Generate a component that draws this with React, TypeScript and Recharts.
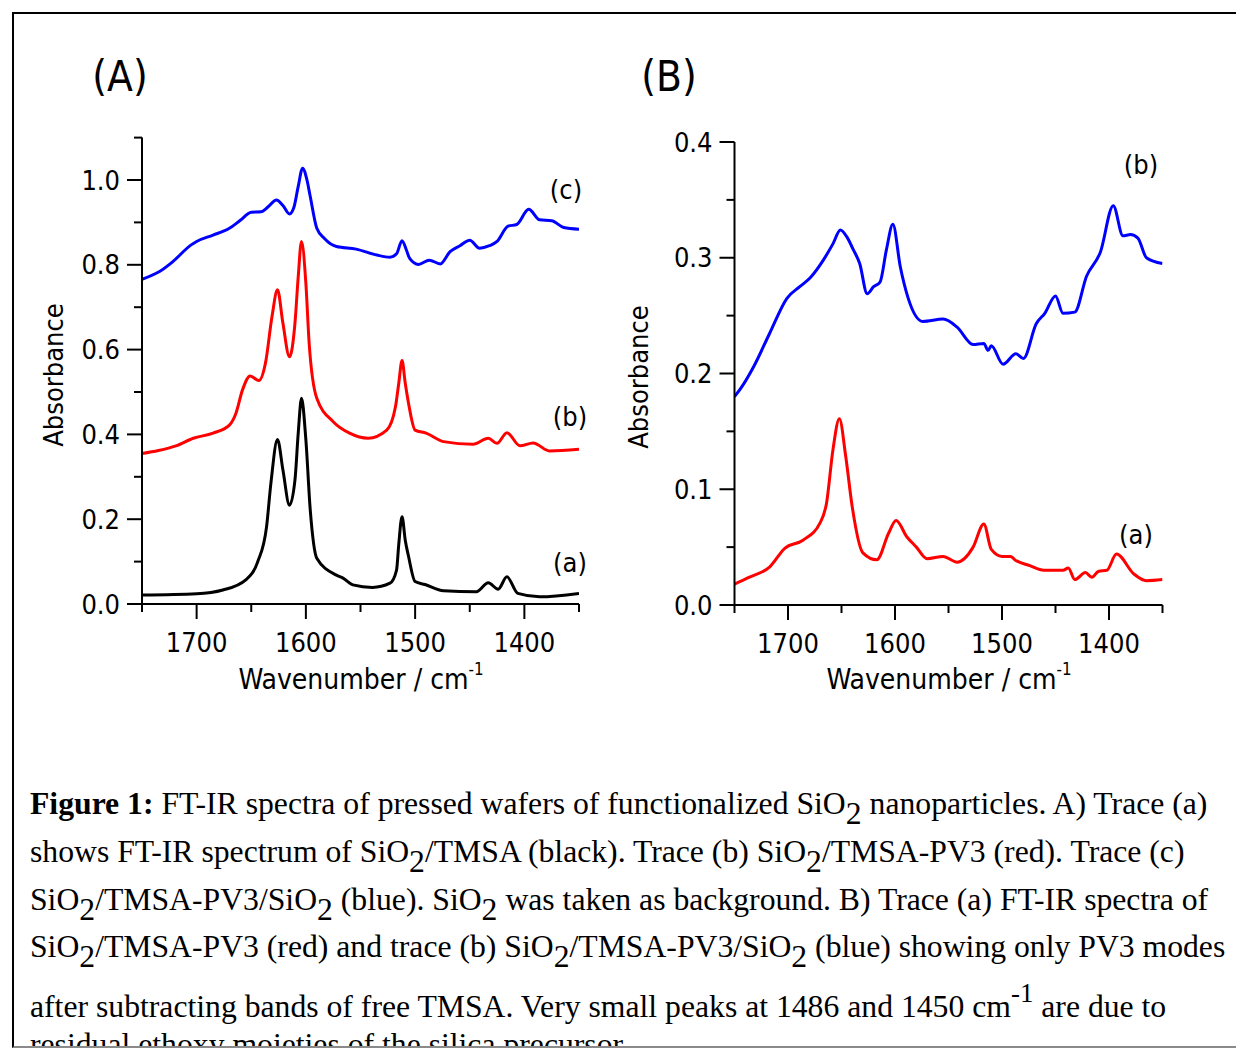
import React from "react";
import { LineChart, Line, XAxis, YAxis } from "recharts";

// ---------- Panel A data ----------
const A_c_wn = [1750, 1734, 1722, 1705, 1700, 1685, 1670, 1660, 1650, 1641, 1634, 1627, 1621, 1615, 1611, 1607, 1603, 1599, 1596, 1590, 1583, 1572, 1554, 1535, 1523, 1517, 1512, 1508, 1505, 1497, 1487, 1477, 1468, 1459, 1450, 1441, 1432, 1425, 1415, 1407, 1396, 1386, 1375, 1364, 1350];
const A_c_abs = [0.766, 0.784, 0.807, 0.847, 0.855, 0.87, 0.886, 0.905, 0.924, 0.925, 0.938, 0.953, 0.94, 0.92, 0.935, 0.985, 1.028, 1.0, 0.961, 0.886, 0.862, 0.843, 0.837, 0.823, 0.818, 0.826, 0.857, 0.835, 0.815, 0.801, 0.811, 0.802, 0.831, 0.845, 0.858, 0.839, 0.845, 0.855, 0.891, 0.895, 0.931, 0.906, 0.904, 0.888, 0.884];

const A_b_wn = [1750, 1735, 1719, 1703, 1685, 1670, 1664, 1658, 1651, 1643, 1637, 1631, 1626, 1621, 1615, 1610, 1607, 1604, 1600, 1597, 1590, 1575, 1560, 1543, 1526, 1518, 1515, 1512, 1509, 1506, 1500, 1490, 1474, 1447, 1433, 1425, 1416, 1404, 1392, 1377, 1350];
const A_b_abs = [0.355, 0.362, 0.373, 0.391, 0.403, 0.422, 0.45, 0.505, 0.538, 0.527, 0.568, 0.678, 0.741, 0.662, 0.583, 0.662, 0.772, 0.855, 0.756, 0.615, 0.485, 0.43, 0.403, 0.391, 0.41, 0.465, 0.52, 0.574, 0.52, 0.473, 0.41, 0.403, 0.383, 0.377, 0.391, 0.379, 0.404, 0.373, 0.38, 0.361, 0.365];

const A_a_wn = [1750, 1700, 1676, 1655, 1644, 1636, 1632, 1626, 1621, 1615, 1610, 1607, 1604, 1600, 1596, 1590, 1572, 1566, 1557, 1539, 1523, 1517, 1515, 1512, 1509, 1506, 1500, 1491, 1474, 1444, 1433, 1424, 1416, 1406, 1386, 1350];
const A_a_abs = [0.021, 0.024, 0.033, 0.057, 0.1, 0.182, 0.285, 0.388, 0.316, 0.233, 0.292, 0.403, 0.485, 0.387, 0.222, 0.108, 0.068, 0.061, 0.045, 0.039, 0.049, 0.08, 0.14, 0.206, 0.15, 0.112, 0.053, 0.046, 0.031, 0.029, 0.05, 0.035, 0.064, 0.025, 0.017, 0.025];

// ---------- Panel B data ----------
const B_b_wn = [1750, 1745, 1732, 1717, 1701, 1689, 1679, 1667, 1658, 1651, 1645, 1639, 1633, 1626, 1620, 1614, 1608, 1602, 1595, 1588, 1574, 1555, 1542, 1527, 1517, 1513, 1510, 1499, 1487, 1480, 1468, 1460, 1450, 1443, 1432, 1421, 1408, 1396, 1387, 1380, 1373, 1365, 1350];
const B_b_abs = [0.18, 0.186, 0.206, 0.235, 0.265, 0.275, 0.283, 0.298, 0.312, 0.324, 0.318, 0.307, 0.295, 0.269, 0.275, 0.279, 0.307, 0.329, 0.292, 0.266, 0.245, 0.247, 0.24, 0.225, 0.226, 0.22, 0.224, 0.208, 0.217, 0.213, 0.243, 0.252, 0.267, 0.252, 0.253, 0.284, 0.305, 0.345, 0.319, 0.32, 0.317, 0.3, 0.295];

const B_a_wn = [1750, 1736, 1717, 1703, 1686, 1670, 1664, 1658, 1652, 1646, 1640, 1630, 1617, 1606, 1599, 1589, 1580, 1570, 1555, 1542, 1527, 1517, 1510, 1500, 1492, 1488, 1474, 1461, 1443, 1438, 1432, 1422, 1416, 1410, 1402, 1393, 1377, 1365, 1350];
const B_a_abs = [0.018, 0.024, 0.033, 0.049, 0.056, 0.071, 0.088, 0.134, 0.161, 0.128, 0.085, 0.045, 0.039, 0.062, 0.073, 0.059, 0.05, 0.04, 0.042, 0.037, 0.05, 0.07, 0.048, 0.042, 0.042, 0.039, 0.034, 0.03, 0.03, 0.032, 0.022, 0.028, 0.024, 0.029, 0.03, 0.044, 0.027, 0.021, 0.022];

// ---------- ticks ----------
const X_TICKS = [1750, 1700, 1650, 1600, 1550, 1500, 1450, 1400, 1350];
const X_LABELS = [1700, 1600, 1500, 1400];
const A_Y_TICKS = [0, 0.1, 0.2, 0.3, 0.4, 0.5, 0.6, 0.7, 0.8, 0.9, 1.0, 1.1];
const A_Y_LABELS = ["0.0", "0.2", "0.4", "0.6", "0.8", "1.0"];
const B_Y_TICKS = [0, 0.05, 0.1, 0.15, 0.2, 0.25, 0.3, 0.35, 0.4];
const B_Y_LABELS = ["0.0", "0.1", "0.2", "0.3", "0.4"];

const zip = (wn: number[], abs: number[]) => wn.map((w, i) => ({ wn: w, abs: abs[i] }));

const FONT = "'DejaVu Sans Condensed', 'DejaVu Sans', sans-serif";
const TICK_FS = 27;

const XTick = (props: any) => {
  const { x, y, payload } = props;
  const v = payload.value;
  const major = X_LABELS.includes(v);
  return (
    <g>
      <line x1={x} x2={x} y1={y} y2={y + (major ? 15 : 8)} stroke="#000" strokeWidth={2} />
      {major && (
        <text x={x} y={y + 38} textAnchor="middle" dominantBaseline="central" fontFamily={FONT} fontStretch="condensed" fontSize={TICK_FS} fill="#000">
          {v}
        </text>
      )}
    </g>
  );
};

const makeYTick = (labels: string[]) => (props: any) => {
  const { x, y, payload } = props;
  const lab = Number(payload.value).toFixed(1);
  const major = labels.includes(lab) && Math.abs(Number(lab) - payload.value) < 1e-6;
  return (
    <g>
      <line x1={x - (major ? 15 : 8)} x2={x} y1={y} y2={y} stroke="#000" strokeWidth={2} />
      {major && (
        <text x={x - 22} y={y} textAnchor="end" dominantBaseline="central" fontFamily={FONT} fontStretch="condensed" fontSize={TICK_FS} fill="#000">
          {lab}
        </text>
      )}
    </g>
  );
};

const YTickA = makeYTick(A_Y_LABELS);
const YTickB = makeYTick(B_Y_LABELS);

const txt = (cx: number, cy: number, content: React.ReactNode, size: number, rotate = false) => (
  <div
    style={{
      position: "absolute",
      left: cx - 8,
      top: cy - 8,
      transform: `translate(-50%, -50%)${rotate ? " rotate(-90deg)" : ""}`,
      fontFamily: FONT,
      fontStretch: "condensed",
      fontSize: size,
      lineHeight: 1,
      whiteSpace: "nowrap",
      color: "#000",
    }}
  >
    {content}
  </div>
);

const wavLabel = (
  <span>
    Wavenumber / cm<span style={{ fontSize: "0.6em", position: "relative", top: "-0.85em" }}>-1</span>
  </span>
);

const Sub = ({ children }: { children: React.ReactNode }) => (
  <span style={{ position: "relative", top: "0.3em" }}>{children}</span>
);

const CAP_FS = 31.7;

const capLine = (baseline: number, content: React.ReactNode) => (
  <div
    style={{
      position: "absolute",
      left: 30 - 14,
      top: baseline - 14 - (-(CAP_FS * 1.107 - 28) / 2 + CAP_FS * 0.891),
      fontFamily: "'Liberation Serif', 'Times New Roman', serif",
      fontSize: CAP_FS,
      lineHeight: "28px",
      whiteSpace: "nowrap",
      color: "#000",
    }}
  >
    {content}
  </div>
);

export default function App() {
  const lineProps = { type: "monotone" as const, dataKey: "abs", dot: false, isAnimationActive: false, strokeWidth: 3 };
  return (
    <div style={{ position: "relative", width: 1236, height: 1042, overflow: "hidden", background: "#fff" }}>
      <div
        style={{
          position: "absolute",
          left: 4,
          top: 4,
          width: 1300,
          height: 1036,
          boxSizing: "border-box",
          borderTop: "2px solid #000",
          borderLeft: "2px solid #000",
          borderBottom: "2px solid #8a8a8a",
          overflow: "hidden",
        }}
      >
        {capLine(815, (
          <span>
            <b>Figure 1:</b> FT-IR spectra of pressed wafers of functionalized SiO<Sub>2</Sub> nanoparticles. A) Trace (a)
          </span>
        ))}
        {capLine(863, (
          <span>
            shows FT-IR spectrum of SiO<Sub>2</Sub>/TMSA (black). Trace (b) SiO<Sub>2</Sub>/TMSA-PV3 (red). Trace (c)
          </span>
        ))}
        {capLine(911, (
          <span>
            SiO<Sub>2</Sub>/TMSA-PV3/SiO<Sub>2</Sub> (blue). SiO<Sub>2</Sub> was taken as background. B) Trace (a) FT-IR spectra of
          </span>
        ))}
        {capLine(958, (
          <span>
            SiO<Sub>2</Sub>/TMSA-PV3 (red) and trace (b) SiO<Sub>2</Sub>/TMSA-PV3/SiO<Sub>2</Sub> (blue) showing only PV3 modes
          </span>
        ))}
        {capLine(1018, (
          <span>
            after subtracting bands of free TMSA. Very small peaks at 1486 and 1450 cm
            <span style={{ fontSize: "0.85em", position: "relative", top: "-0.55em" }}>-1</span> are due to
          </span>
        ))}
        {capLine(1056, <span>residual ethoxy moieties of the silica precursor.</span>)}
      </div>

      {/* Panel A */}
      <div style={{ position: "absolute", left: 12, top: 92 }}>
        <LineChart width={600} height={600} margin={{ top: 37.6, right: 41, bottom: 36, left: 42 }}>
          <XAxis
            type="number"
            dataKey="wn"
            domain={[1350, 1750]}
            reversed
            ticks={X_TICKS}
            interval={0}
            tickSize={0}
            tickMargin={0}
            tickLine={false}
            tick={(p: any) => <XTick {...p} />}
            axisLine={{ stroke: "#000", strokeWidth: 2 }}
            height={60}
            allowDataOverflow
          />
          <YAxis
            type="number"
            domain={[0, 1.1]}
            ticks={A_Y_TICKS}
            interval={0}
            tickSize={0}
            tickMargin={0}
            tickLine={false}
            tick={(p: any) => <YTickA {...p} />}
            axisLine={{ stroke: "#000", strokeWidth: 2 }}
            width={80}
            allowDataOverflow
          />
          <Line {...lineProps} data={zip(A_c_wn, A_c_abs)} stroke="#0000ff" />
          <Line {...lineProps} data={zip(A_b_wn, A_b_abs)} stroke="#ff0000" />
          <Line {...lineProps} data={zip(A_a_wn, A_a_abs)} stroke="#000000" />
        </LineChart>
      </div>

      {/* Panel B */}
      <div style={{ position: "absolute", left: 612, top: 92 }}>
        <LineChart width={600} height={600} margin={{ top: 42, right: 57.5, bottom: 35, left: 34.5 }}>
          <XAxis
            type="number"
            dataKey="wn"
            domain={[1350, 1750]}
            reversed
            ticks={X_TICKS}
            interval={0}
            tickSize={0}
            tickMargin={0}
            tickLine={false}
            tick={(p: any) => <XTick {...p} />}
            axisLine={{ stroke: "#000", strokeWidth: 2 }}
            height={60}
            allowDataOverflow
          />
          <YAxis
            type="number"
            domain={[0, 0.4]}
            ticks={B_Y_TICKS}
            interval={0}
            tickSize={0}
            tickMargin={0}
            tickLine={false}
            tick={(p: any) => <YTickB {...p} />}
            axisLine={{ stroke: "#000", strokeWidth: 2 }}
            width={80}
            allowDataOverflow
          />
          <Line {...lineProps} data={zip(B_b_wn, B_b_abs)} stroke="#0000ff" />
          <Line {...lineProps} data={zip(B_a_wn, B_a_abs)} stroke="#ff0000" />
        </LineChart>
      </div>

      {/* Text labels */}
      {txt(120, 77, "(A)", 42)}
      {txt(669, 77, "(B)", 42)}
      {txt(361, 680, wavLabel, 28)}
      {txt(949, 680, wavLabel, 28)}
      {txt(53, 375, "Absorbance", TICK_FS, true)}
      {txt(638, 377, "Absorbance", TICK_FS, true)}
      {txt(566, 189, "(c)", TICK_FS)}
      {txt(570, 416, "(b)", TICK_FS)}
      {txt(570, 562, "(a)", TICK_FS)}
      {txt(1141, 164, "(b)", TICK_FS)}
      {txt(1136, 534, "(a)", TICK_FS)}
    </div>
  );
}
